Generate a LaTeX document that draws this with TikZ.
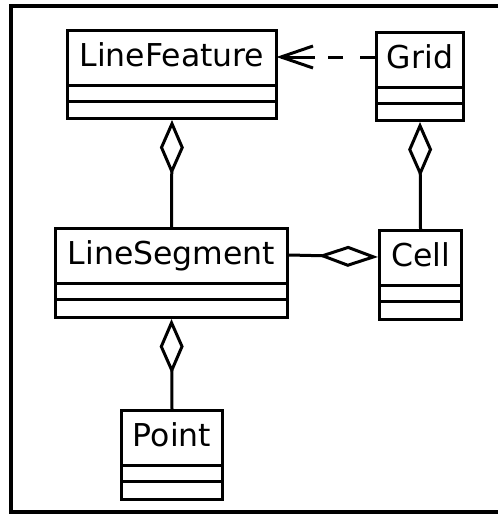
\documentclass[tikz,border=0pt]{standalone}
\usepackage{fontspec}
\setmainfont{DejaVu Sans}
\usetikzlibrary{arrows.meta}
\begin{document}
\begin{tikzpicture}[x=1pt,y=-1pt,
  line width=3pt,
  cls/.style={draw, line width=3pt, rectangle, inner sep=0pt, anchor=north west, minimum height=88pt},
  lbl/.style={anchor=base, inner sep=0pt, font=\fontsize{31.5pt}{36pt}\selectfont},
  aggv/.style={{Diamond[open,length=55pt,width=24pt]}-},
  aggh/.style={{Diamond[open,length=60pt,width=21pt]}-},
  depdash/.style={dash pattern=on 15pt off 17pt},
]
\useasboundingbox (0,0) rectangle (498,514);
% frame (its right side lies outside the picture)
\draw[line width=3.5pt] (498,6) -- (11,6) -- (11,512) -- (498,512);
% classes
\node[cls, minimum width=209pt] (lf) at (66,29) {};
\node[cls, minimum width=87pt] (grid) at (375,31) {};
\node[cls, minimum width=232pt, minimum height=89pt] (ls) at (54,227) {};
\node[cls, minimum width=82pt, minimum height=89pt] (cell) at (378,229) {};
\node[cls, minimum width=101pt, minimum height=89pt] (pt) at (120,409) {};
\foreach \n in {lf,grid,ls,cell,pt}{
  \draw ([yshift=-56pt]\n.north west) -- ([yshift=-56pt]\n.north east);
  \draw ([yshift=-72pt]\n.north west) -- ([yshift=-72pt]\n.north east);
}
\node[lbl] (lft) at ([yshift=-37pt]lf.north) {LineFeature};
\node[lbl] (gridt) at ([yshift=-37pt]grid.north) {Grid};
\node[lbl] (lst) at ([yshift=-37pt]ls.north) {LineSegment};
\node[lbl] (cellt) at ([yshift=-37pt]cell.north) {Cell};
\node[lbl] (ptt) at ([yshift=-37pt]pt.north) {Point};
% dependency Grid -> LineFeature
\coordinate (depG) at ([yshift=-26pt]grid.north west);
\coordinate (depL) at ([yshift=-28pt]lf.north east);
\coordinate (depT) at ([xshift=3pt]depL);
\coordinate (depB) at ([xshift=37pt]depL);
\draw[depdash] (depG) -- (depB);
\draw (depB) -- (depT);
\draw ([shift={(35pt,11pt)}]depL) -- (depT) -- ([shift={(35pt,-11pt)}]depL);
% aggregations
\draw[aggv] (lf.south) -- (ls.north);
\draw[aggv] (grid.south) -- (cell.north);
\draw[aggv] (ls.south) -- (pt.north);
\coordinate (cellL) at ([yshift=-28pt]cell.north west);
\coordinate (lsR) at ([yshift=-28pt]ls.north east);
\draw[aggh] (cellL) -- (lsR);
\end{tikzpicture}
\end{document}
